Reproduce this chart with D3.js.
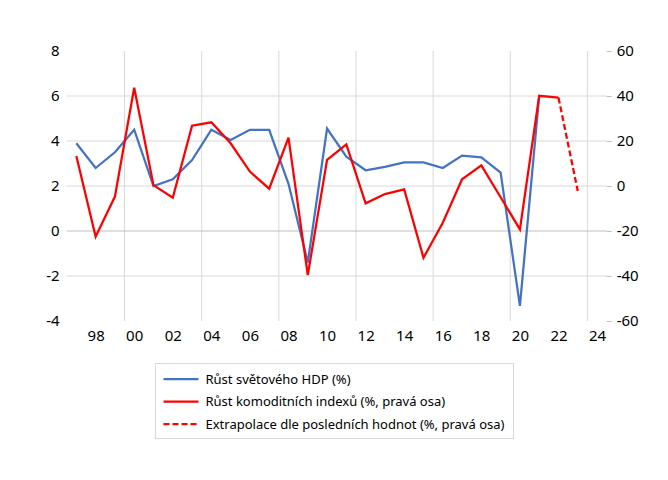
<!DOCTYPE html>
<html>
<head>
<meta charset="utf-8">
<script src="https://cdn.jsdelivr.net/npm/d3@7"></script>
<style>
  body { margin: 0; background: #fff; }
  text { font-family: "Noto Sans", "Open Sans", sans-serif; fill: #000; }
</style>
</head>
<body>
<div id="chart"></div>
<script>
// data
const years = d3.range(1997, 2024)
const gdp = [3.9, 2.8, 3.5, 4.5, 2.0, 2.3, 3.15, 4.5, 4.05, 4.5, 4.5, 2.1, -1.4, 4.55, 3.3,
  2.7, 2.85, 3.05, 3.05, 2.8, 3.35, 3.27, 2.6, -3.33, 6.0]
const commod = [13.3, -22.5, -4.7, 43.7, 0.4, -5.2, 26.8, 28.3, 19, 6.4, -1.2, 21.5, -39.6, 11.6, 18.5,
  -7.7, -3.6, -1.5, -31.9, -16.3, 3, 9.2, -5, -19.3, 40.1, 39.3]
const extrapYears = [2022, 2023]
const extrap = [39.3, -2.2]
const leftTicks = [-4, -2, 0, 2, 4, 6, 8]
const rightTicks = [-60, -40, -20, 0, 20, 40, 60]
const labelYears = d3.range(1998, 2025, 2)
const gridYears = [2000, 2004, 2008, 2012, 2016, 2020, 2024]
const legendItems = [
  { name: "Růst světového HDP (%)", color: "#4472C4", dash: null },
  { name: "Růst komoditních indexů (%, pravá osa)", color: "#FF0000", dash: null },
  { name: "Extrapolace dle posledních hodnot (%, pravá osa)", color: "#FF0000", dash: "6,3" }
]

const width = 668, height = 480
const margin = { left: 66.7, right: 61.3, top: 51, bottom: 159 }
const w = width - margin.left - margin.right
const h = height - margin.top - margin.bottom

const svg = d3.select("#chart").append("svg")
  .attr("width", width)
  .attr("height", height)

const g = svg.append("g")
  .attr("transform", "translate(" + margin.left + "," + margin.top + ")")

const x = d3.scaleLinear().domain([1996.5, 2024.5]).range([0, w])
const yL = d3.scaleLinear().domain([-4, 8]).range([h, 0])
const yR = d3.scaleLinear().domain([-60, 60]).range([h, 0])

// gridlines
g.selectAll(".vgrid").data(gridYears).enter().append("line")
  .attr("x1", d => x(d - 0.5)).attr("x2", d => x(d - 0.5))
  .attr("y1", 0).attr("y2", h)
  .attr("stroke", "#d9d9d9").attr("stroke-width", 1)

g.selectAll(".hgrid").data(leftTicks.filter(d => d > -4 && d < 8)).enter().append("line")
  .attr("x1", 0).attr("x2", w)
  .attr("y1", d => yL(d)).attr("y2", d => yL(d))
  .attr("stroke", d => d === 0 ? "#bfbfbf" : "#d9d9d9").attr("stroke-width", 1)

// left axis
const leftAxis = g.append("g")
  .call(d3.axisLeft(yL).tickValues(leftTicks).tickSize(0).tickPadding(7).tickFormat(d => String(d)))
leftAxis.select(".domain").remove()
leftAxis.selectAll("text").attr("font-size", "15px")

// right axis
const rightAxis = g.append("g")
  .attr("transform", "translate(" + w + ",0)")
  .call(d3.axisRight(yR).tickValues(rightTicks).tickSize(5).tickPadding(5).tickFormat(d => String(d)))
rightAxis.select(".domain").remove()
rightAxis.selectAll("line").attr("stroke", "#bfbfbf")
rightAxis.selectAll("text").attr("font-size", "15px")

// x axis
const xAxis = g.append("g")
  .attr("transform", "translate(0," + h + ")")
  .call(d3.axisBottom(x).tickValues(labelYears).tickSize(0).tickPadding(9)
    .tickFormat(d => String(d % 100).padStart(2, "0")))
xAxis.select(".domain").remove()
xAxis.selectAll("text").attr("font-size", "15px")

// lines
const lineL = d3.line().x((d, i) => x(years[i])).y(d => yL(d))
const lineR = d3.line().x((d, i) => x(years[i])).y(d => yR(d))

g.append("path").datum(gdp)
  .attr("d", lineL).attr("fill", "none")
  .attr("stroke", "#4472C4").attr("stroke-width", 2.25)

g.append("path").datum(commod)
  .attr("d", lineR).attr("fill", "none")
  .attr("stroke", "#FF0000").attr("stroke-width", 2.25)

g.append("path").datum(extrap)
  .attr("d", d3.line().x((d, i) => x(extrapYears[i])).y(d => yR(d)))
  .attr("fill", "none")
  .attr("stroke", "#FF0000").attr("stroke-width", 2.25)
  .attr("stroke-dasharray", "6,3")

// legend
const legend = svg.append("g").attr("transform", "translate(155.5,363.5)")
legend.append("rect")
  .attr("width", 358).attr("height", 75)
  .attr("fill", "#fff").attr("stroke", "#d9d9d9")

const item = legend.selectAll(".item").data(legendItems).enter().append("g")
  .attr("transform", (d, i) => "translate(0," + (15.5 + i * 22.5) + ")")
item.append("line")
  .attr("x1", 8).attr("x2", 43)
  .attr("stroke", d => d.color).attr("stroke-width", 2.25)
  .attr("stroke-dasharray", d => d.dash)
item.append("text")
  .attr("x", 50).attr("dy", "0.35em")
  .attr("font-size", "13px")
  .text(d => d.name)
</script>
</body>
</html>
